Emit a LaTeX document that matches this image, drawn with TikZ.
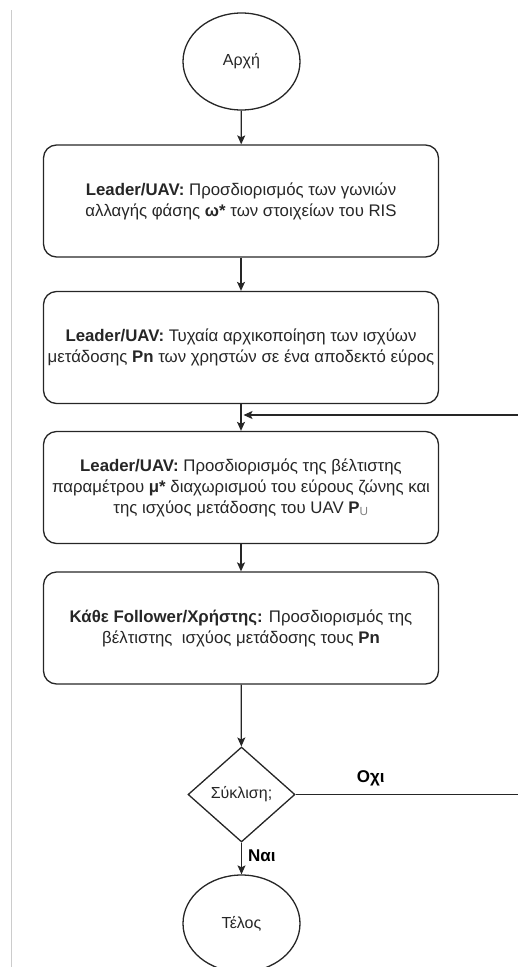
\documentclass[tikz,border=0pt]{standalone}
\usepackage{fontspec}
\setmainfont{Liberation Sans}
\usetikzlibrary{arrows.meta,shapes.geometric}

\begin{document}
\begin{tikzpicture}[x=1pt,y=-1pt,
		every node/.style={font=\fontsize{16.8}{21}\selectfont, text=black!85},
		terminal/.style={draw=black!85, line width=1.3pt, ellipse, minimum width=117pt, minimum height=97pt, inner sep=0pt, font=\fontsize{16}{20}\selectfont},
		stepbox/.style={draw=black!85, line width=1.3pt, rounded corners=13pt, minimum width=395pt, minimum height=112pt, align=center, inner sep=0pt},
		decision/.style={draw=black!85, line width=1.3pt, diamond, aspect=1.13, minimum width=107pt, minimum height=95pt, inner sep=0pt, font=\fontsize{16}{20}\selectfont},
		flow/.style={line width=1.2pt, draw=black!85, -{Stealth[length=9pt,width=8pt,inset=2pt]}},
		answer/.style={font=\fontsize{17}{21}\selectfont\bfseries, text=black, inner sep=0pt}]
		\useasboundingbox (0,0) rectangle (517,967);
		\draw [black!20, line width=1pt] (11,10) -- (11,967);
		% nodes
		\node [terminal] (start) at (241.5,61.5) {Αρχή};
		\node [stepbox] (leader1) at (241,201) {\textbf{Leader/UAV:} Προσδιορισμός των γωνιών\\αλλαγής φάσης \textbf{ω*} των στοιχείων του RIS};
		\node [stepbox] (leader2) at (241,347.5) {\textbf{Leader/UAV:} Τυχαία αρχικοποίηση των ισχύων\\μετάδοσης \textbf{Pn} των χρηστών σε ένα αποδεκτό εύρος};
		\node [stepbox] (leader3) at (241,487.5) {\textbf{Leader/UAV:} Προσδιορισμός της βέλτιστης\\παραμέτρου \textbf{μ*} διαχωρισμού του εύρους ζώνης και\\της ισχύος μετάδοσης του UAV \textbf{P}\textsubscript{\color{black!50}U}};
		\node [stepbox] (follower) at (241,628) {\textbf{Κάθε Follower/Χρήστης:} Προσδιορισμός της\\βέλτιστης \ ισχύος μετάδοσης τους \textbf{Pn}};
		\node [decision] (conv) at (241.5,794.5) {Σύκλιση;};
		\node [terminal] (end) at (241.5,923.5) {Τέλος};
		\coordinate (loop) at (530,415);
		% connectors
		\draw [flow] (start) -- (leader1);
		\draw [flow] (leader1) -- (leader2);
		\draw [flow] (leader2) -- (leader3);
		\draw [flow] (leader3) -- (follower);
		\draw [flow] (follower) -- (conv);
		\draw [flow] (conv) -- node [answer, anchor=west, pos=0.4, xshift=6pt] {Ναι} (end);
		\draw [line width=1.2pt, black!85] (conv.east) -- node [answer, anchor=base, pos=0.32, yshift=12pt] {Οχι} (conv.east -| loop) -- (loop);
		\draw [flow] (loop) -- (243.5,415);
	\end{tikzpicture}
\end{document}
